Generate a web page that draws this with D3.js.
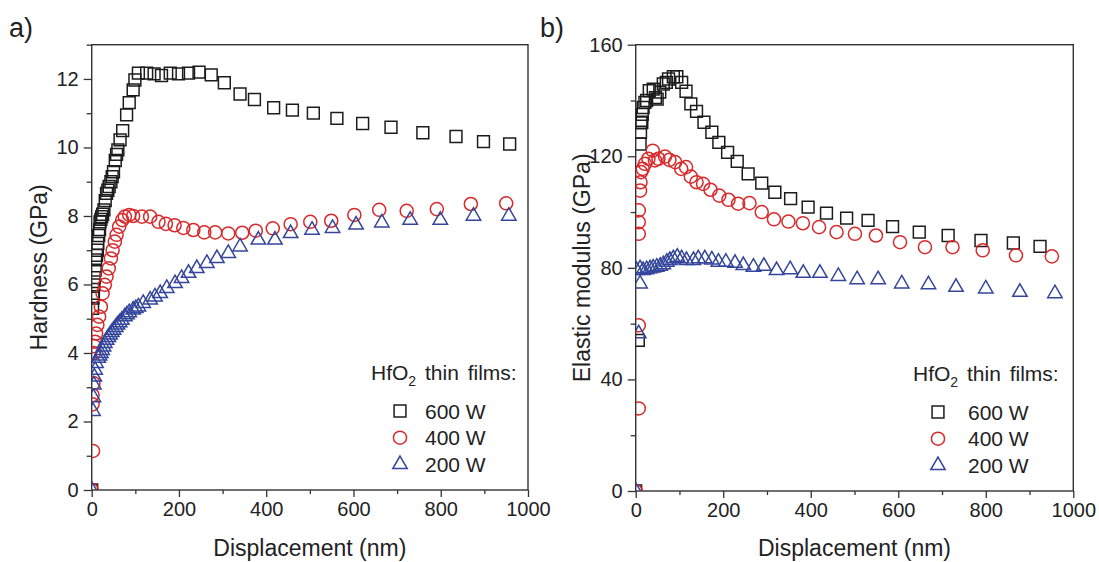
<!DOCTYPE html>
<html>
<head>
<meta charset="utf-8">
<script src="https://cdn.jsdelivr.net/npm/d3@7"></script>
<style>
  body { margin: 0; background: #fff; }
  svg { font-family: "Liberation Sans", Arial, sans-serif; }
</style>
</head>
<body>
<div id="chart"></div>
<script>
// x ticks (nm) shared by both panels
const xTicks = [0, 200, 400, 600, 800, 1000];
const xMinorTicks = [100, 300, 500, 700, 900];
const hardTicks = [0, 2, 4, 6, 8, 10, 12];
const hardMinorTicks = [1, 3, 5, 7, 9, 11, 13];
const modTicks = [0, 40, 80, 120, 160];
const modMinorTicks = [20, 60, 100, 140];
const seriesLabels = ["600 W", "400 W", "200 W"];

// a) hardness (GPa) vs displacement (nm)
const hard600 = [[0,0],[2,5.3],[3,5.6],[4,5.74],[5,5.99],[6,6.2],[8,6.42],[9,6.72],[11,6.85],[13,7.0],[14,7.2],[16,7.43],[18,7.6],[19,7.83],[21,7.9],[23,7.98],[25,8.05],[28,8.18],[31,8.45],[34,8.66],[37,8.75],[40,8.86],[44,9.0],[47,9.15],[50,9.29],[54,9.62],[57,9.8],[60,9.93],[65,10.22],[71,10.49],[80,10.95],[86,11.31],[95,11.68],[99,11.97],[107,12.17],[126,12.17],[143,12.15],[160,12.1],[180,12.17],[199,12.15],[222,12.17],[246,12.2],[274,12.12],[304,11.89],[340,11.56],[373,11.4],[417,11.16],[460,11.09],[508,11.0],[562,10.85],[621,10.7],[686,10.59],[759,10.43],[835,10.32],[898,10.17],[958,10.1]];
const hard400 = [[0,0],[3,1.14],[2,2.5],[2,2.77],[4,3.12],[5,4.0],[6,4.2],[8,4.33],[10,4.57],[13,4.82],[17,5.06],[21,5.35],[25,5.74],[30,5.99],[34,6.23],[39,6.47],[44,6.76],[48,7.0],[53,7.25],[57,7.45],[63,7.69],[70,7.88],[76,7.98],[86,8.03],[95,8.0],[115,7.98],[134,7.98],[153,7.83],[170,7.77],[190,7.73],[210,7.65],[233,7.59],[258,7.52],[283,7.52],[313,7.49],[345,7.51],[376,7.57],[415,7.64],[456,7.76],[501,7.83],[549,7.86],[602,8.03],[659,8.18],[722,8.15],[791,8.2],[869,8.35],[950,8.37]];
const hard200 = [[0,0],[3,2.3],[4,2.7],[5,3.07],[6,3.3],[8,3.5],[10,3.7],[15,3.85],[18,3.92],[21,3.99],[24,4.08],[27,4.18],[30,4.28],[34,4.38],[38,4.46],[42,4.53],[46,4.6],[50,4.67],[55,4.75],[59,4.82],[64,4.89],[69,4.96],[76,5.06],[81,5.12],[86,5.18],[95,5.26],[101,5.3],[107,5.35],[118,5.45],[134,5.55],[145,5.64],[157,5.74],[172,5.89],[191,6.03],[206,6.18],[222,6.33],[241,6.47],[264,6.62],[287,6.76],[313,6.91],[340,7.1],[382,7.3],[420,7.3],[456,7.49],[505,7.59],[552,7.64],[606,7.74],[665,7.8],[730,7.88],[799,7.88],[875,8.0],[956,8.0]];

// b) elastic modulus (GPa) vs displacement (nm)
const mod600 = [[0,0],[6,54],[10,124.4],[11,128.6],[12,132],[14,132.2],[15,135],[17,137.5],[21,139.3],[25,140],[31,143.5],[40,144.1],[45,141],[49,140.5],[55,143],[63,145.9],[70,146.5],[75,147.7],[86,148.5],[94,148.5],[105,146.5],[115,143.3],[126,138.8],[139,136.1],[156,132.2],[174,128.6],[190,125.0],[210,121.4],[232,118.2],[257,113.7],[288,110.4],[318,107.1],[354,104.8],[394,101.8],[436,99.6],[482,97.8],[531,97.0],[587,94.8],[648,92.8],[714,91.6],[789,89.8],[863,88.9],[924,87.7]];
const mod400 = [[0,0],[7,29.6],[7,59.4],[7,92.2],[7,96.4],[7,100.6],[10,107.7],[11,110.7],[12,114.3],[16,115.5],[21,117.3],[29,119.1],[39,122.0],[44,118.5],[52,119.1],[67,119.9],[77,118.7],[90,117.9],[104,115.5],[115,116.1],[126,112.7],[139,110.7],[154,110.1],[171,108.0],[191,105.9],[212,104.4],[234,103.0],[260,103.2],[288,100.0],[316,97.4],[349,96.6],[382,96.0],[419,94.6],[459,92.8],[501,92.2],[549,91.6],[604,89.2],[661,87.4],[724,87.4],[793,86.3],[869,84.5],[951,84.1]];
const mod200 = [[0,0],[7,56.4],[10,74.3],[2,79.1],[10,79.7],[17,79.1],[25,79.4],[33,79.7],[40,80.0],[48,80.3],[56,80.6],[63,81.2],[71,82.1],[78,82.7],[86,83.3],[95,83.9],[105,83.3],[116,82.7],[132,82.7],[143,83.3],[158,83.3],[174,82.9],[189,82.1],[206,82.1],[227,81.7],[246,80.9],[269,80.3],[293,80.6],[322,79.1],[353,79.4],[383,78.1],[421,78.1],[463,77.0],[506,75.8],[554,75.8],[608,74.3],[669,74.0],[732,73.1],[800,72.5],[878,71.3],[958,70.8]];

const colors = ["#1c1c1c", "#d8292b", "#34469b"];
const shapes = [d3.symbolSquare, d3.symbolCircle, d3.symbolTriangle];
const shapeSizes = [140, 135, 90];

const svg = d3.select("#chart")
  .append("svg")
    .attr("width", 1099)
    .attr("height", 562);

function drawPanel(opt) {
  const x = d3.scaleLinear().domain([0, 1000]).range([opt.left, opt.right]);
  const y = d3.scaleLinear().domain(opt.yDomain).range([opt.bottom, opt.top]);
  const g = svg.append("g");

  // clip so the markers sitting on the axis get cut like the original
  g.append("clipPath").attr("id", opt.id + "-clip")
    .append("rect")
      .attr("x", opt.left).attr("y", opt.top)
      .attr("width", opt.right - opt.left).attr("height", opt.bottom - opt.top);

  // x axis, minor then major
  g.append("g")
    .attr("transform", `translate(0,${opt.bottom})`)
    .call(d3.axisBottom(x).tickValues(xMinorTicks).tickSize(4).tickFormat(""));
  g.append("g")
    .attr("transform", `translate(0,${opt.bottom})`)
    .style("font-size", "20px")
    .call(d3.axisBottom(x).tickValues(xTicks).tickSize(7).tickPadding(5).tickFormat(d3.format("d")));

  // y axis
  g.append("g")
    .attr("transform", `translate(${opt.left},0)`)
    .call(d3.axisLeft(y).tickValues(opt.minor).tickSize(5).tickFormat(""));
  g.append("g")
    .attr("transform", `translate(${opt.left},0)`)
    .style("font-size", "20px")
    .call(d3.axisLeft(y).tickValues(opt.ticks).tickSize(8).tickPadding(5).tickFormat(d3.format("d")));

  g.selectAll(".domain").remove();
  g.selectAll(".tick line").attr("stroke", "#333").attr("stroke-width", 1.3);
  g.selectAll(".tick text").attr("fill", "#222").attr("font-family", "Liberation Sans, Arial, sans-serif");

  // frame
  g.append("rect")
    .attr("x", opt.left).attr("y", opt.top)
    .attr("width", opt.right - opt.left).attr("height", opt.bottom - opt.top)
    .attr("fill", "none").attr("stroke", "#333").attr("stroke-width", 1.4);

  // markers
  const marks = g.append("g").attr("clip-path", `url(#${opt.id}-clip)`);
  opt.series.forEach((data, i) => {
    marks.append("g")
      .selectAll("path")
      .data(data)
      .join("path")
        .attr("transform", d => `translate(${x(d[0])},${y(d[1])})`)
        .attr("d", d3.symbol().type(shapes[i]).size(shapeSizes[i]))
        .attr("fill", "none")
        .attr("stroke", colors[i])
        .attr("stroke-width", 1.5);
  });

  // axis titles
  g.append("text")
    .attr("x", (opt.left + opt.right) / 2)
    .attr("y", 556)
    .attr("text-anchor", "middle")
    .style("font-size", "23px")
    .style("fill", "#222")
    .text("Displacement (nm)");
  g.append("text")
    .attr("transform", `translate(${opt.titleX},${(opt.top + opt.bottom) / 2}) rotate(-90)`)
    .attr("text-anchor", "middle")
    .style("font-size", "23px")
    .style("fill", "#222")
    .text(opt.yTitle);

  // panel letter
  g.append("text")
    .attr("x", opt.letterX)
    .attr("y", 37)
    .style("font-size", "27px")
    .style("fill", "#222")
    .text(opt.letter);

  // legend
  const head = g.append("text")
    .attr("x", opt.legX)
    .attr("y", opt.legY)
    .style("font-size", "21px")
    .style("word-spacing", "3px")
    .style("fill", "#222");
  head.append("tspan").text("HfO");
  head.append("tspan").attr("dy", 6).style("font-size", "14px").text("2");
  head.append("tspan").attr("dy", -6).text(" thin films:");

  seriesLabels.forEach((label, i) => {
    const cy = opt.legY + 31 + i * 26.7;
    g.append("path")
      .attr("transform", `translate(${opt.legSymX},${cy})`)
      .attr("d", d3.symbol().type(shapes[i]).size(shapeSizes[i]))
      .attr("fill", "none")
      .attr("stroke", colors[i])
      .attr("stroke-width", 1.5);
    g.append("text")
      .attr("x", opt.legTextX)
      .attr("y", cy + 7.5)
      .style("font-size", "21px")
      .style("fill", "#222")
      .text(label);
  });
}

drawPanel({
  id: "pa", letter: "a)", letterX: 9,
  left: 91.7, right: 528, top: 44.7, bottom: 490,
  yDomain: [0, 13], ticks: hardTicks, minor: hardMinorTicks,
  yTitle: "Hardness (GPa)", titleX: 47,
  series: [hard600, hard400, hard200],
  legX: 371, legY: 380, legSymX: 400, legTextX: 425
});

drawPanel({
  id: "pb", letter: "b)", letterX: 540,
  left: 635.7, right: 1073.3, top: 44.7, bottom: 491,
  yDomain: [0, 160], ticks: modTicks, minor: modMinorTicks,
  yTitle: "Elastic modulus (GPa)", titleX: 590,
  series: [mod600, mod400, mod200],
  legX: 913, legY: 381, legSymX: 938, legTextX: 968
});
</script>
</body>
</html>
